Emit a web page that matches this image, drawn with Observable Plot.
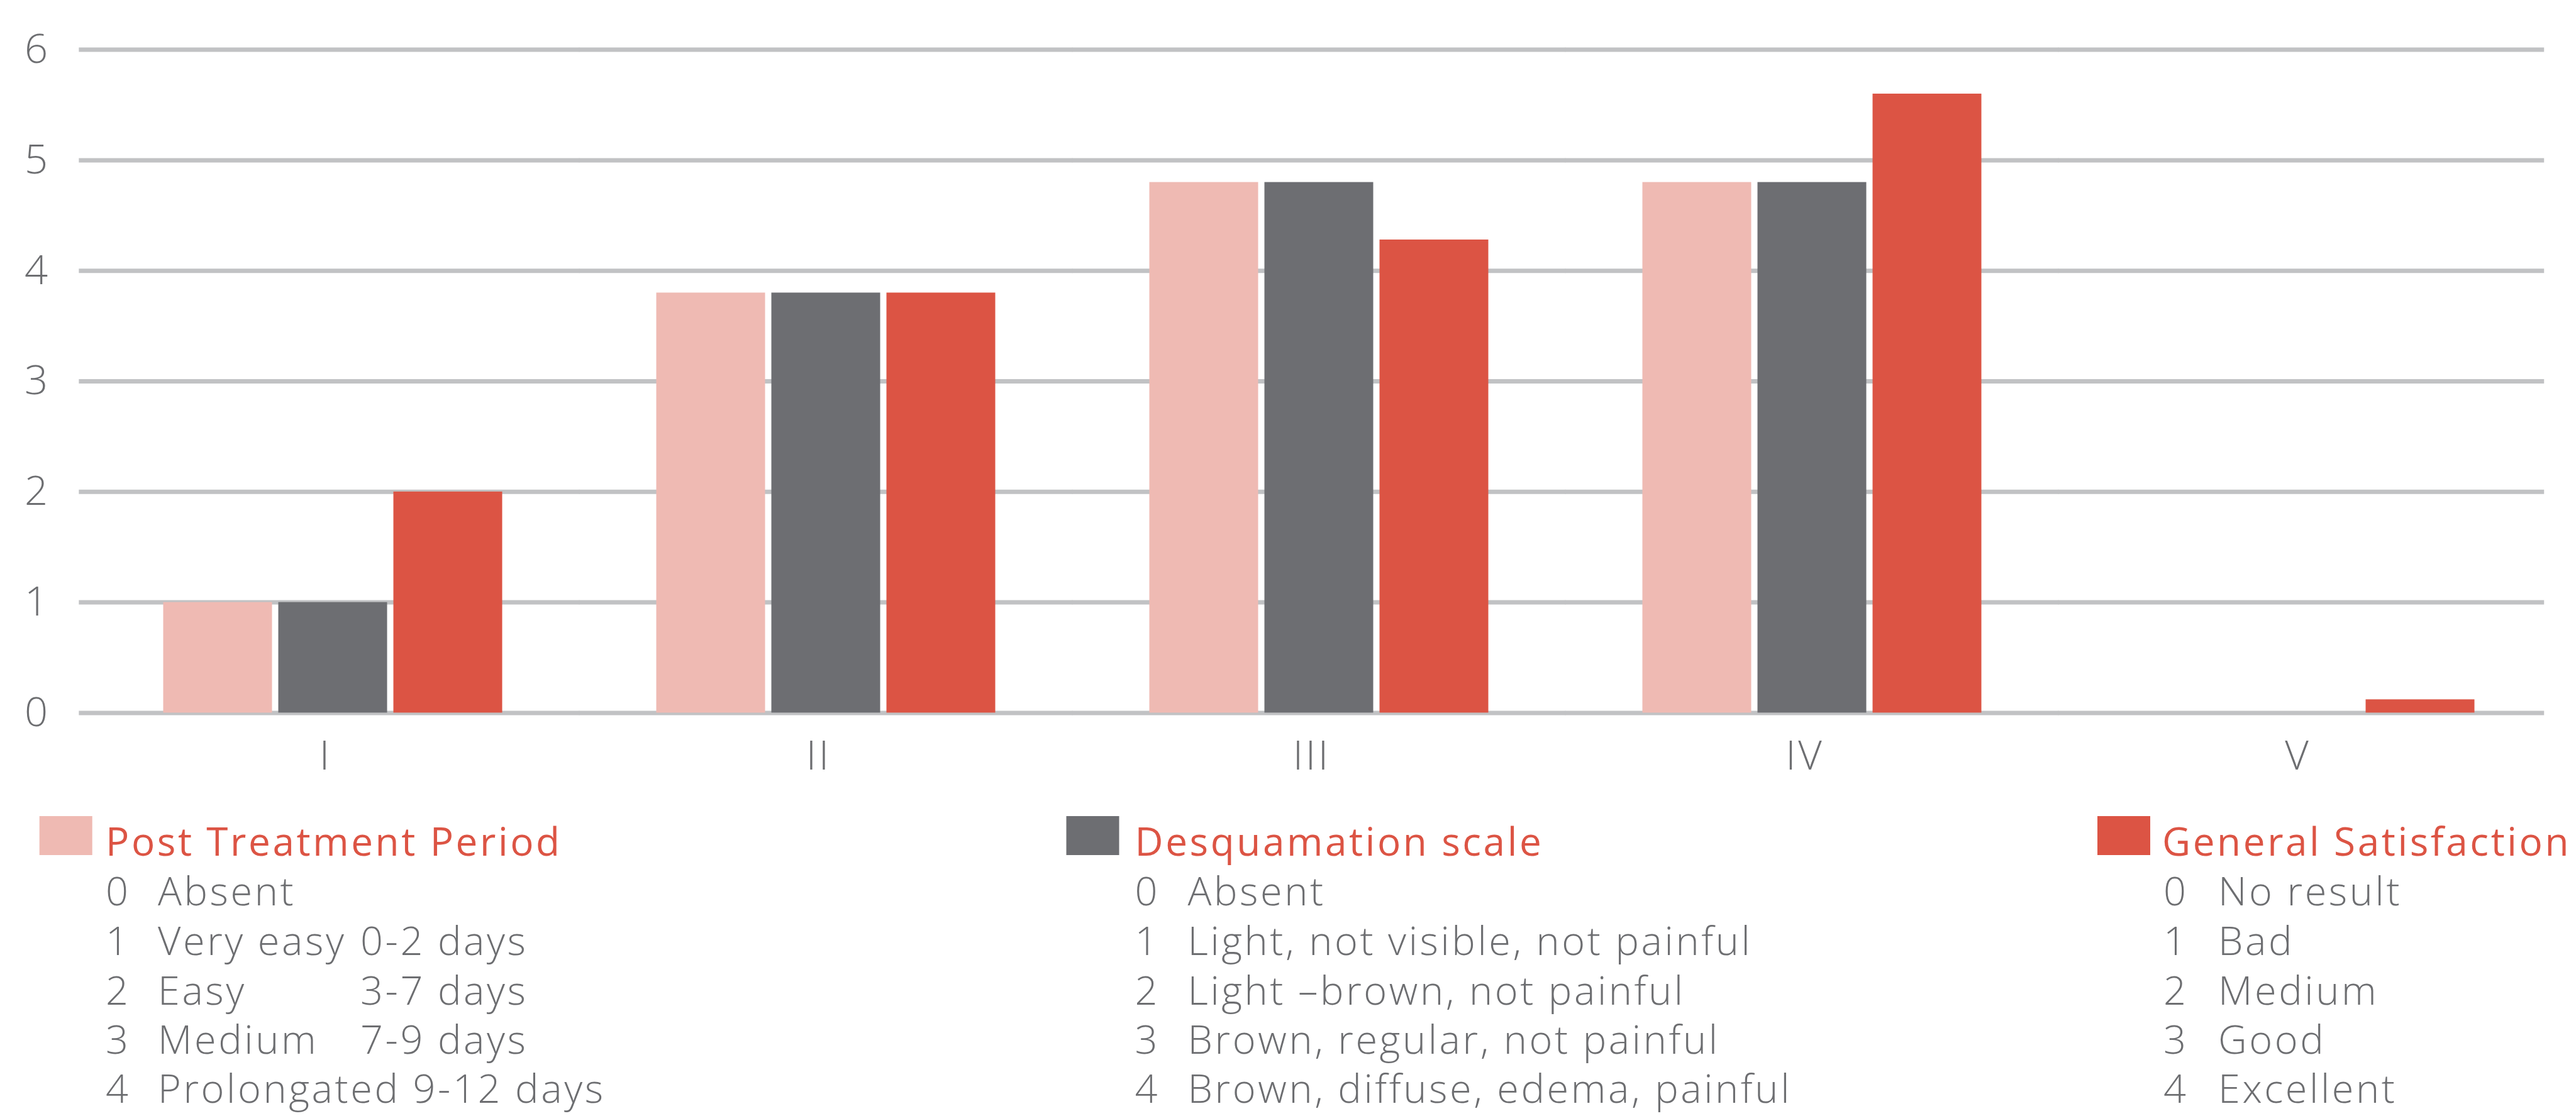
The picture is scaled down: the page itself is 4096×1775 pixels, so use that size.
<!DOCTYPE html>
<html><head><meta charset="utf-8">
<script src="https://cdn.jsdelivr.net/npm/d3@7"></script>
<script src="https://cdn.jsdelivr.net/npm/@observablehq/plot@0.6"></script>
<style>
html,body{margin:0;padding:0;background:#fff;}
#chart svg,#legend svg{display:block;}
</style></head>
<body><div id="chart"></div><div id="legend"></div>
<script>
// ---- data ----
const categories = ["I", "II", "III", "IV", "V"];
const seriesNames = ["Post Treatment Period", "Desquamation scale", "General Satisfaction"];
const postTreatment = [1, 3.8, 4.8, 4.8, 0];
const desquamation = [1, 3.8, 4.8, 4.8, 0];
const satisfaction = [2, 3.8, 4.28, 5.6, 0.12];
const yTicks = [0, 1, 2, 3, 4, 5, 6];
const seriesColors = ["#efbab3", "#6d6e72", "#dc5444"];
const postTreatmentScale = [["0", "Absent", ""], ["1", "Very easy", "0-2 days"], ["2", "Easy", "3-7 days"], ["3", "Medium", "7-9 days"], ["4", "Prolongated 9-12 days", ""]];
const desquamationScale = [["0", "Absent", ""], ["1", "Light, not visible, not painful", ""], ["2", "Light \u2013brown, not painful", ""], ["3", "Brown, regular, not painful", ""], ["4", "Brown, diffuse, edema, painful", ""]];
const satisfactionScale = [["0", "No result", ""], ["1", "Bad", ""], ["2", "Medium", ""], ["3", "Good", ""], ["4", "Excellent", ""]];

const seriesValues = [postTreatment, desquamation, satisfaction];
const rows = [];
categories.forEach((c, i) => seriesNames.forEach((s, j) => rows.push({category: c, series: s, value: seriesValues[j][i]})));
const gridRows = categories.flatMap(c => yTicks.map(v => ({category: c, v})));

// ---- layout ----
const W = 4096, H = 1280;
const mL = 124.5, mR = 50.7, mT = 78.6, mB = H - 1133.4;
const fxPadIn = 0.311, fxPadOut = fxPadIn / 2, fxAlign = 0.548;
const plotW = W - mL - mR;
const step = plotW / (categories.length - fxPadIn + 2 * fxPadOut);
const outer = 2 * fxPadOut * step;
const gapHalf = step * fxPadIn / 2 + 0.5;
const leftExt = fxAlign * outer, rightExt = (1 - fxAlign) * outer;
const firstFacetLeft = mL + leftExt;
const labelShift = (fxAlign - 0.5) * outer;
const textColor = "#6d6e71";
const gridColor = "#c1c2c4";
const font = "'Open Sans', sans-serif";
const spacing = "3.6px";
const first = categories[0], last = categories[categories.length - 1];

const chart = Plot.plot({
  width: W, height: H,
  marginLeft: mL, marginRight: mR, marginTop: mT, marginBottom: mB,
  style: {fontFamily: font, background: "#fff", color: textColor, overflow: "visible", letterSpacing: spacing},
  fx: {domain: categories, paddingInner: fxPadIn, paddingOuter: fxPadOut, align: fxAlign, label: null},
  x: {domain: seriesNames, paddingInner: 0.0526, paddingOuter: 0, axis: null},
  y: {domain: [0, 6], label: null},
  color: {domain: seriesNames, range: seriesColors},
  marks: [
    Plot.ruleY(gridRows.filter(d => d.category === first), {fx: "category", y: "v", stroke: gridColor, strokeWidth: 7, insetLeft: -leftExt, insetRight: -gapHalf}),
    Plot.ruleY(gridRows.filter(d => d.category !== first && d.category !== last), {fx: "category", y: "v", stroke: gridColor, strokeWidth: 7, insetLeft: -gapHalf, insetRight: -gapHalf}),
    Plot.ruleY(gridRows.filter(d => d.category === last), {fx: "category", y: "v", stroke: gridColor, strokeWidth: 7, insetLeft: -gapHalf, insetRight: -rightExt}),
    Plot.barY(rows, {fx: "category", x: "series", y: "value", fill: "series"}),
    Plot.axisY(yTicks, {tickSize: 0, tickPadding: firstFacetLeft - 37.6, textAnchor: "start", tickFormat: d => String(d), fontSize: 65, fontWeight: 300, fill: textColor, label: null}),
    Plot.axisFx({anchor: "bottom", tickSize: 0, tickPadding: 44, dx: -labelShift, fontSize: 65, fontWeight: 300, fill: textColor, label: null})
  ]
});
document.getElementById("chart").append(chart);

// ---- legend (below the plot) ----
const LH = 1775 - H;
const legendCols = [
  {name: seriesNames[0], color: seriesColors[0], items: postTreatmentScale, swatchX: 62.7, titleX: 168, numX: 168, labelX: 251, label2X: 573},
  {name: seriesNames[1], color: seriesColors[1], items: desquamationScale, swatchX: 1695.5, titleX: 1804.6, numX: 1804.6, labelX: 1888.5, label2X: 0},
  {name: seriesNames[2], color: seriesColors[2], items: satisfactionScale, swatchX: 3335, titleX: 3438, numX: 3440, labelX: 3527, label2X: 0}
];
const rowBaselines = [160, 239, 318, 396, 474];
const legend = d3.create("svg").attr("width", W).attr("height", LH)
  .attr("font-family", font).style("letter-spacing", spacing);
for (const col of legendCols) {
  const g = legend.append("g");
  g.append("rect").attr("x", col.swatchX).attr("y", 18).attr("width", 84).attr("height", 62).attr("fill", col.color);
  g.append("text").attr("x", col.titleX).attr("y", 81).attr("font-size", 62).attr("fill", "#dc5444").text(col.name);
  col.items.forEach((it, k) => {
    g.append("text").attr("x", col.numX).attr("y", rowBaselines[k]).attr("font-size", 63).attr("font-weight", 300).attr("fill", textColor).text(it[0]);
    g.append("text").attr("x", col.labelX).attr("y", rowBaselines[k]).attr("font-size", 63).attr("font-weight", 300).attr("fill", textColor).text(it[1]);
    if (it[2]) g.append("text").attr("x", col.label2X).attr("y", rowBaselines[k]).attr("font-size", 63).attr("font-weight", 300).attr("fill", textColor).text(it[2]);
  });
}
document.getElementById("legend").append(legend.node());
</script>
</body></html>
